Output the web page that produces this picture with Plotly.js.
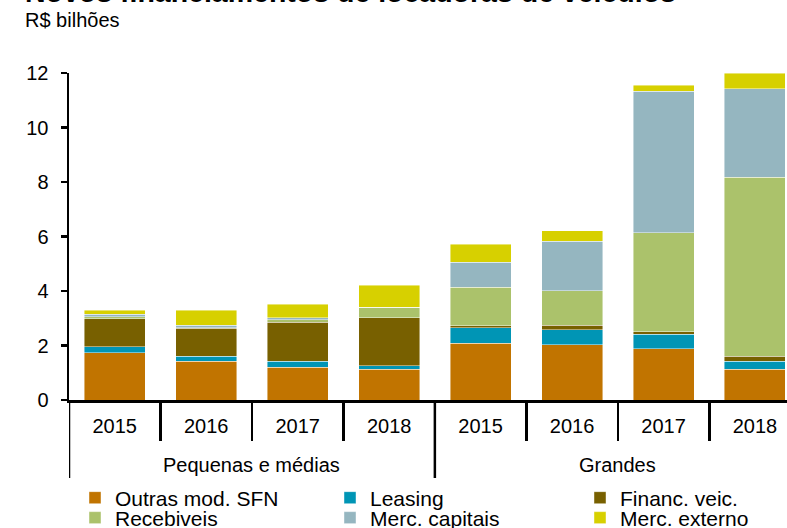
<!DOCTYPE html>
<html>
<head>
<meta charset="utf-8">
<script src="https://cdn.plot.ly/plotly-3.0.1.min.js"></script>
<style>
  body { margin: 0; background: #fff; }
  #chart { width: 787px; height: 528px; }
</style>
</head>
<body>
<div id="chart"></div>
<script>
// porte da locadora / ano
var grupos = ["Pequenas e médias", "Grandes"];
var anos = ["2015", "2016", "2017", "2018", "2015", "2016", "2017", "2018"];
var posicao = anos.map(function (a, i) { return i; });

// R$ bilhões
var outrasSFN    = [1.74, 1.43, 1.20, 1.12, 2.08, 2.03, 1.88, 1.12];
var leasing      = [0.22, 0.17, 0.22, 0.13, 0.57, 0.54, 0.53, 0.31];
var financVeic   = [1.02, 1.04, 1.44, 1.76, 0.08, 0.18, 0.10, 0.17];
var recebiveis   = [0.08, 0.02, 0.08, 0.39, 1.40, 1.26, 3.62, 6.58];
var mercCapitais = [0.09, 0.08, 0.08, 0.00, 0.92, 1.81, 5.20, 3.25];
var mercExterno  = [0.15, 0.55, 0.49, 0.82, 0.67, 0.39, 0.22, 0.57];

var fonte = "Liberation Sans, Arial, sans-serif";

function serie(nome, valores, cor, leg) {
  return {
    type: "bar",
    name: nome,
    x: posicao,
    y: valores,
    legend: leg,
    marker: { color: cor, line: { color: "rgba(255,255,255,0.55)", width: 0.8 } },
    hoverinfo: "name+y"
  };
}

var data = [
  serie("Outras mod. SFN", outrasSFN, "#C17400", "legend"),
  serie("Leasing", leasing, "#0095B5", "legend2"),
  serie("Financ. veic.", financVeic, "#786000", "legend3"),
  serie("Recebiveis", recebiveis, "#ABC26B", "legend4"),
  serie("Merc. capitais", mercCapitais, "#95B6C0", "legend5"),
  serie("Merc. externo", mercExterno, "#D7D000", "legend6")
];

// uma legenda por item, em grade 3 x 2
function legenda(col, lin) {
  var xs = [95, 350, 600];
  var ys = [498, 518];
  return {
    orientation: "h",
    xanchor: "left",
    yanchor: "middle",
    x: (xs[col] - 20 - 69) / 718,
    y: (400 - ys[lin]) / 327,
    font: { family: fonte, size: 21, color: "#000" },
    bgcolor: "rgba(0,0,0,0)",
    borderwidth: 0,
    itemclick: false
  };
}

// separadores de grupo e rótulos de grupo abaixo dos anos
var divisores = [-0.5, 3.5].map(function (x) {
  return {
    type: "line", xref: "x", yref: "paper",
    x0: x, x1: x, y0: 0, y1: -78 / 327,
    line: { color: "#000", width: 2.5 }
  };
});
var rotulosGrupo = grupos.map(function (g, i) {
  return {
    text: g, xref: "x", yref: "paper",
    x: 1.5 + 4 * i, y: -65 / 327, yanchor: "middle",
    showarrow: false,
    font: { family: fonte, size: 20, color: "#000" }
  };
});

// título (cortado no topo, como no original) e subtítulo
var textos = [{
  text: "<b>Novos financiamentos de locadoras de veículos</b>",
  xref: "paper", yref: "paper",
  x: (23 - 69) / 718, xanchor: "left",
  y: (400 + 8) / 327, yanchor: "middle",
  showarrow: false,
  font: { family: fonte, size: 28.5, color: "#000" }
}, {
  text: "R$ bilhões",
  xref: "paper", yref: "paper",
  x: (23 - 69) / 718, xanchor: "left",
  y: (400 - 20) / 327, yanchor: "middle",
  showarrow: false,
  font: { family: fonte, size: 20, color: "#000" }
}];

var layout = {
  width: 787,
  height: 528,
  margin: { l: 69, r: 0, t: 73, b: 128, autoexpand: false },
  paper_bgcolor: "#fff",
  plot_bgcolor: "#fff",
  font: { family: fonte, size: 20, color: "#000" },
  barmode: "stack",
  bargap: 0.333,
  showlegend: true,
  shapes: divisores,
  annotations: textos.concat(rotulosGrupo),
  xaxis: {
    range: [-0.5, 7.35],
    tickvals: posicao,
    ticktext: anos,
    ticks: "",
    minor: {
      tickvals: [0.5, 1.5, 2.5, 4.5, 5.5, 6.5],
      ticks: "outside",
      ticklen: 38,
      tickwidth: 2.5,
      tickcolor: "#000",
      showgrid: false
    },
    showline: true,
    linecolor: "#000",
    linewidth: 2.5,
    showgrid: false,
    zeroline: false,
    automargin: false,
    ticklabelstandoff: 6,
    tickfont: { family: fonte, size: 20, color: "#000" }
  },
  yaxis: {
    range: [0, 12],
    tickvals: [0, 2, 4, 6, 8, 10, 12],
    showline: true,
    linecolor: "#000",
    linewidth: 2.5,
    ticks: "outside",
    ticklen: 6,
    tickwidth: 2.5,
    tickcolor: "#000",
    showgrid: false,
    zeroline: false,
    automargin: false,
    ticklabelstandoff: 8,
    tickfont: { family: fonte, size: 20, color: "#000" }
  },
  legend: legenda(0, 0),
  legend2: legenda(1, 0),
  legend3: legenda(2, 0),
  legend4: legenda(0, 1),
  legend5: legenda(1, 1),
  legend6: legenda(2, 1)
};

Plotly.newPlot("chart", data, layout, { displayModeBar: false, staticPlot: true });
</script>
</body>
</html>
